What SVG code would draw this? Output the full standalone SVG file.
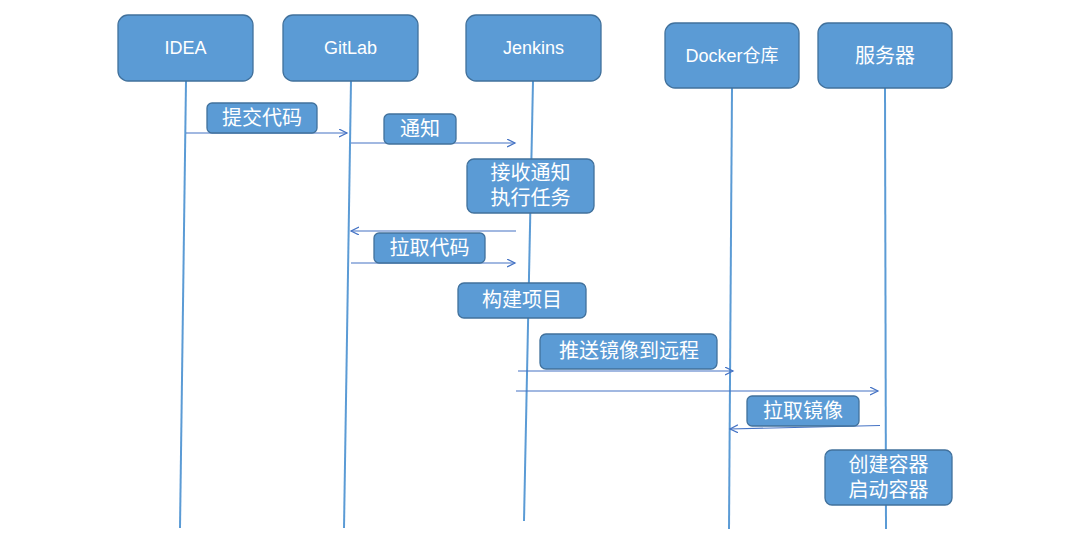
<svg xmlns="http://www.w3.org/2000/svg" width="1080" height="542" viewBox="0 0 1080 542">
<style>
.n{fill:#5B9BD5;stroke:#41719C;stroke-width:1.3}
.t{fill:#fff;font-family:"Liberation Sans","Noto Sans CJK SC",sans-serif;text-anchor:middle;dominant-baseline:central}
.h{font-size:18px}
.c{font-size:20px}
.life{stroke:#5B9BD5;stroke-width:2;fill:none}
.msg{stroke:#4472C4;stroke-width:1.2;fill:none}
</style>
<defs>
<marker id="ah" markerWidth="10" markerHeight="10" refX="8" refY="4" orient="auto" markerUnits="userSpaceOnUse">
<path d="M0,0 L8,4 L0,8" fill="none" stroke="#4472C4" stroke-width="1.2"/>
</marker>
</defs>
<rect width="1080" height="542" fill="#fff"/>
<g id="lifelines">
<line class="life" x1="186" y1="81" x2="180" y2="528"/>
<line class="life" x1="351" y1="81" x2="344" y2="528"/>
<line class="life" x1="533" y1="81" x2="524" y2="521"/>
<line class="life" x1="732" y1="88" x2="729" y2="529"/>
<line class="life" x1="885" y1="88" x2="886" y2="529"/>
</g>
<g id="connectors">
<line class="msg" x1="186" y1="133" x2="347" y2="133" marker-end="url(#ah)"/>
<line class="msg" x1="351" y1="143" x2="515" y2="143" marker-end="url(#ah)"/>
<line class="msg" x1="516" y1="231" x2="351" y2="231" marker-end="url(#ah)"/>
<line class="msg" x1="351" y1="263" x2="515" y2="263" marker-end="url(#ah)"/>
<line class="msg" x1="518" y1="371" x2="733" y2="371" marker-end="url(#ah)"/>
<line class="msg" x1="516" y1="391" x2="878" y2="391" marker-end="url(#ah)"/>
<line class="msg" x1="880" y1="425.5" x2="730" y2="429" marker-end="url(#ah)"/>
</g>
<g id="IDEA"><rect class="n" x="118" y="15" width="135" height="66" rx="10"/><text class="t h" x="185.5" y="48">IDEA</text></g>
<g id="GitLab"><rect class="n" x="283" y="15" width="135" height="66" rx="10"/><text class="t h" x="350.5" y="48">GitLab</text></g>
<g id="Jenkins"><rect class="n" x="466" y="15" width="135" height="66" rx="10"/><text class="t h" x="533.5" y="48">Jenkins</text></g>
<g id="Docker"><rect class="n" x="665" y="23" width="134" height="65" rx="10"/><text class="t h" x="732" y="56">Docker仓库</text></g>
<g id="Server"><rect class="n" x="818" y="23" width="134" height="65" rx="10"/><text class="t c" x="885" y="56">服务器</text></g>
<g id="lbl-commit"><rect class="n" x="207" y="103" width="110" height="30" rx="5"/><text class="t c" x="262" y="118">提交代码</text></g>
<g id="lbl-notify"><rect class="n" x="384" y="114" width="72" height="30" rx="5"/><text class="t c" x="420" y="129">通知</text></g>
<g id="lbl-receive"><rect class="n" x="467" y="159" width="127" height="54" rx="7"/><text class="t c" x="530.5" y="173">接收通知</text><text class="t c" x="530.5" y="198">执行任务</text></g>
<g id="lbl-pull"><rect class="n" x="374" y="233" width="111" height="30" rx="5"/><text class="t c" x="429.5" y="248">拉取代码</text></g>
<g id="lbl-build"><rect class="n" x="458" y="283" width="128" height="35" rx="6"/><text class="t c" x="522" y="300">构建项目</text></g>
<g id="lbl-push"><rect class="n" x="540" y="334" width="177" height="35" rx="6"/><text class="t c" x="629" y="351">推送镜像到远程</text></g>
<g id="lbl-pullimg"><rect class="n" x="747" y="396" width="112" height="30" rx="5"/><text class="t c" x="803" y="411">拉取镜像</text></g>
<g id="lbl-run"><rect class="n" x="825" y="450" width="127" height="55" rx="7"/><text class="t c" x="888.5" y="465">创建容器</text><text class="t c" x="888.5" y="490">启动容器</text></g>
</svg>
